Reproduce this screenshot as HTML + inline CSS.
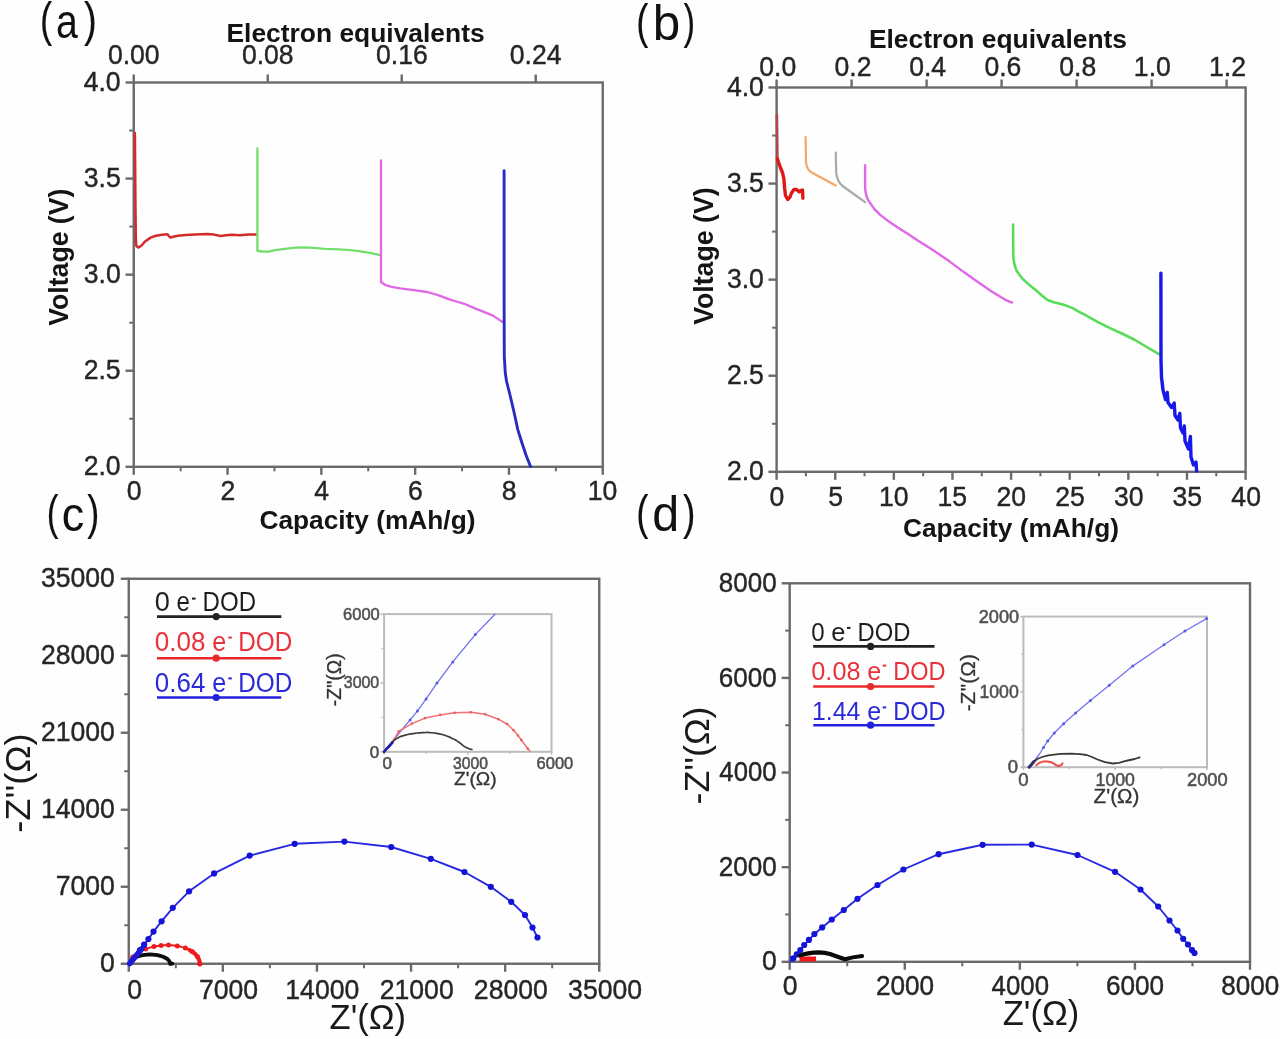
<!DOCTYPE html><html><head><meta charset="utf-8"><style>html,body{margin:0;padding:0;background:#fefefe;}svg{display:block;filter:blur(0.45px);}text{font-family:"Liberation Sans",sans-serif;}</style></head><body>
<svg width="1280" height="1039" viewBox="0 0 1280 1039">
<rect width="1280" height="1039" fill="#fefefe"/>
<rect x="133.75" y="82.5" width="469.0" height="384.3" fill="none" stroke="#6a6a6a" stroke-width="2.4"/>
<line x1="125.55" y1="466.80" x2="133.75" y2="466.80" stroke="#6a6a6a" stroke-width="2.4"/>
<text transform="translate(85.02,475.40) scale(1.0000,1.0500)" x="-1.33" y="0" font-size="26.6" font-weight="normal" fill="#262626" stroke="#262626" stroke-width="0.4">2.0</text>
<line x1="125.55" y1="370.73" x2="133.75" y2="370.73" stroke="#6a6a6a" stroke-width="2.4"/>
<text transform="translate(85.02,379.33) scale(1.0000,1.0500)" x="-1.33" y="0" font-size="26.6" font-weight="normal" fill="#262626" stroke="#262626" stroke-width="0.4">2.5</text>
<line x1="125.55" y1="274.65" x2="133.75" y2="274.65" stroke="#6a6a6a" stroke-width="2.4"/>
<text transform="translate(84.75,283.25) scale(1.0000,1.0500)" x="-1.06" y="0" font-size="26.6" font-weight="normal" fill="#262626" stroke="#262626" stroke-width="0.4">3.0</text>
<line x1="125.55" y1="178.57" x2="133.75" y2="178.57" stroke="#6a6a6a" stroke-width="2.4"/>
<text transform="translate(84.75,187.17) scale(1.0000,1.0500)" x="-1.06" y="0" font-size="26.6" font-weight="normal" fill="#262626" stroke="#262626" stroke-width="0.4">3.5</text>
<line x1="125.55" y1="82.50" x2="133.75" y2="82.50" stroke="#6a6a6a" stroke-width="2.4"/>
<text transform="translate(84.35,91.10) scale(1.0000,1.0500)" x="-0.67" y="0" font-size="26.6" font-weight="normal" fill="#262626" stroke="#262626" stroke-width="0.4">4.0</text>
<line x1="129.25" y1="418.76" x2="133.75" y2="418.76" stroke="#6a6a6a" stroke-width="2"/>
<line x1="129.25" y1="322.69" x2="133.75" y2="322.69" stroke="#6a6a6a" stroke-width="2"/>
<line x1="129.25" y1="226.61" x2="133.75" y2="226.61" stroke="#6a6a6a" stroke-width="2"/>
<line x1="129.25" y1="130.54" x2="133.75" y2="130.54" stroke="#6a6a6a" stroke-width="2"/>
<line x1="133.75" y1="466.80" x2="133.75" y2="474.80" stroke="#6a6a6a" stroke-width="2.4"/>
<text transform="translate(127.73,500.40) scale(1.0000,1.0500)" x="-1.06" y="0" font-size="26.6" font-weight="normal" fill="#262626" stroke="#262626" stroke-width="0.4">0</text>
<line x1="180.65" y1="466.80" x2="180.65" y2="471.30" stroke="#6a6a6a" stroke-width="2"/>
<line x1="227.55" y1="466.80" x2="227.55" y2="474.80" stroke="#6a6a6a" stroke-width="2.4"/>
<text transform="translate(221.80,500.40) scale(1.0000,1.0500)" x="-1.33" y="0" font-size="26.6" font-weight="normal" fill="#262626" stroke="#262626" stroke-width="0.4">2</text>
<line x1="274.45" y1="466.80" x2="274.45" y2="471.30" stroke="#6a6a6a" stroke-width="2"/>
<line x1="321.35" y1="466.80" x2="321.35" y2="474.80" stroke="#6a6a6a" stroke-width="2.4"/>
<text transform="translate(315.00,500.40) scale(1.0000,1.0500)" x="-0.67" y="0" font-size="26.6" font-weight="normal" fill="#262626" stroke="#262626" stroke-width="0.4">4</text>
<line x1="368.25" y1="466.80" x2="368.25" y2="471.30" stroke="#6a6a6a" stroke-width="2"/>
<line x1="415.15" y1="466.80" x2="415.15" y2="474.80" stroke="#6a6a6a" stroke-width="2.4"/>
<text transform="translate(409.33,500.40) scale(1.0000,1.0500)" x="-1.33" y="0" font-size="26.6" font-weight="normal" fill="#262626" stroke="#262626" stroke-width="0.4">6</text>
<line x1="462.05" y1="466.80" x2="462.05" y2="471.30" stroke="#6a6a6a" stroke-width="2"/>
<line x1="508.95" y1="466.80" x2="508.95" y2="474.80" stroke="#6a6a6a" stroke-width="2.4"/>
<text transform="translate(503.00,500.40) scale(1.0000,1.0500)" x="-1.20" y="0" font-size="26.6" font-weight="normal" fill="#262626" stroke="#262626" stroke-width="0.4">8</text>
<line x1="555.85" y1="466.80" x2="555.85" y2="471.30" stroke="#6a6a6a" stroke-width="2"/>
<line x1="602.75" y1="466.80" x2="602.75" y2="474.80" stroke="#6a6a6a" stroke-width="2.4"/>
<text transform="translate(589.82,500.40) scale(1.0000,1.0500)" x="-2.00" y="0" font-size="26.6" font-weight="normal" fill="#262626" stroke="#262626" stroke-width="0.4">10</text>
<line x1="133.75" y1="82.50" x2="133.75" y2="74.50" stroke="#6a6a6a" stroke-width="2.4"/>
<text transform="translate(108.95,63.90) scale(1.0000,1.0500)" x="-1.06" y="0" font-size="26.6" font-weight="normal" fill="#262626" stroke="#262626" stroke-width="0.4">0.00</text>
<line x1="267.75" y1="82.50" x2="267.75" y2="74.50" stroke="#6a6a6a" stroke-width="2.4"/>
<text transform="translate(242.95,63.90) scale(1.0000,1.0500)" x="-1.06" y="0" font-size="26.6" font-weight="normal" fill="#262626" stroke="#262626" stroke-width="0.4">0.08</text>
<line x1="401.75" y1="82.50" x2="401.75" y2="74.50" stroke="#6a6a6a" stroke-width="2.4"/>
<text transform="translate(377.01,63.90) scale(1.0000,1.0500)" x="-1.06" y="0" font-size="26.6" font-weight="normal" fill="#262626" stroke="#262626" stroke-width="0.4">0.16</text>
<line x1="535.75" y1="82.50" x2="535.75" y2="74.50" stroke="#6a6a6a" stroke-width="2.4"/>
<text transform="translate(510.81,63.90) scale(1.0000,1.0500)" x="-1.06" y="0" font-size="26.6" font-weight="normal" fill="#262626" stroke="#262626" stroke-width="0.4">0.24</text>
<text transform="translate(228.20,41.60) scale(0.9965,1.0000)" x="-1.72" y="0" font-size="26.5" font-weight="bold" fill="#141414">Electron equivalents</text>
<text transform="translate(260.50,528.60) scale(0.9918,1.0000)" x="-1.06" y="0" font-size="26.5" font-weight="bold" fill="#141414">Capacity (mAh/g)</text>
<text transform="translate(67.70,325.40) rotate(-90) scale(0.9889,1.0000)" x="-0.27" y="0" font-size="26.9" font-weight="bold" fill="#141414">Voltage (V)</text>
<polyline points="134.9,133.0 135.4,200.0 135.8,238.0 136.4,246.0 138.5,247.6 141.5,245.5 145.0,241.5 150.6,237.6 156.0,235.8 162.0,234.8 167.5,234.3 169.2,236.5 170.5,237.6 173.0,236.8 178.0,235.8 185.6,235.0 195.0,234.4 207.5,234.0 214.0,234.6 220.6,236.0 226.0,235.2 232.0,234.8 240.0,235.2 248.0,234.6 256.8,234.6" fill="none" stroke="#d42a2a" stroke-width="2.5" stroke-linejoin="round" stroke-linecap="round"/>
<polyline points="257.4,148.4 257.4,250.8 262.0,251.5 268.8,251.6 275.0,250.2 285.0,248.8 295.0,247.6 301.6,247.3 310.0,247.6 316.9,248.1 325.0,248.8 338.8,249.4 350.0,250.2 360.6,251.3 370.0,252.8 380.2,255.2" fill="none" stroke="#74de6c" stroke-width="2.3" stroke-linejoin="round" stroke-linecap="round"/>
<polyline points="381.0,160.3 381.0,282.0 385.0,284.8 390.7,286.6 400.0,288.3 414.0,290.2 427.2,292.0 438.0,295.2 449.4,299.4 458.0,302.0 465.3,304.2 475.0,308.4 484.4,312.1 493.0,315.6 501.9,321.6 504.0,322.5" fill="none" stroke="#e068e6" stroke-width="2.3" stroke-linejoin="round" stroke-linecap="round"/>
<polyline points="504.1,170.7 504.1,300.0 504.3,356.5 505.2,372.0 506.5,381.0 510.0,395.0 514.0,412.0 517.8,429.6 522.0,443.0 526.0,455.0 530.5,466.5" fill="none" stroke="#2a2ac4" stroke-width="2.9" stroke-linejoin="round" stroke-linecap="round"/>
<text transform="translate(42.20,36.36) scale(0.7505,1.0000)" x="-2.93" y="0" font-size="48.77" font-weight="normal" fill="#111" stroke="#111" stroke-width="0.15">(</text>
<text transform="translate(57.80,37.82) scale(0.8170,1.0000)" x="-2.16" y="0" font-size="48.0" font-weight="normal" fill="#111">a</text>
<text transform="translate(84.40,36.36) scale(0.7886,1.0000)" x="-0.49" y="0" font-size="48.77" font-weight="normal" fill="#111" stroke="#111" stroke-width="0.15">)</text>
<rect x="776.6" y="87.5" width="468.9999999999999" height="384.3" fill="none" stroke="#6a6a6a" stroke-width="2.4"/>
<line x1="768.40" y1="471.80" x2="776.60" y2="471.80" stroke="#6a6a6a" stroke-width="2.4"/>
<text transform="translate(728.22,480.40) scale(1.0000,1.0500)" x="-1.33" y="0" font-size="26.6" font-weight="normal" fill="#262626" stroke="#262626" stroke-width="0.4">2.0</text>
<line x1="768.40" y1="375.73" x2="776.60" y2="375.73" stroke="#6a6a6a" stroke-width="2.4"/>
<text transform="translate(728.22,384.33) scale(1.0000,1.0500)" x="-1.33" y="0" font-size="26.6" font-weight="normal" fill="#262626" stroke="#262626" stroke-width="0.4">2.5</text>
<line x1="768.40" y1="279.65" x2="776.60" y2="279.65" stroke="#6a6a6a" stroke-width="2.4"/>
<text transform="translate(727.95,288.25) scale(1.0000,1.0500)" x="-1.06" y="0" font-size="26.6" font-weight="normal" fill="#262626" stroke="#262626" stroke-width="0.4">3.0</text>
<line x1="768.40" y1="183.57" x2="776.60" y2="183.57" stroke="#6a6a6a" stroke-width="2.4"/>
<text transform="translate(727.95,192.17) scale(1.0000,1.0500)" x="-1.06" y="0" font-size="26.6" font-weight="normal" fill="#262626" stroke="#262626" stroke-width="0.4">3.5</text>
<line x1="768.40" y1="87.50" x2="776.60" y2="87.50" stroke="#6a6a6a" stroke-width="2.4"/>
<text transform="translate(727.55,96.10) scale(1.0000,1.0500)" x="-0.67" y="0" font-size="26.6" font-weight="normal" fill="#262626" stroke="#262626" stroke-width="0.4">4.0</text>
<line x1="772.10" y1="423.76" x2="776.60" y2="423.76" stroke="#6a6a6a" stroke-width="2"/>
<line x1="772.10" y1="327.69" x2="776.60" y2="327.69" stroke="#6a6a6a" stroke-width="2"/>
<line x1="772.10" y1="231.61" x2="776.60" y2="231.61" stroke="#6a6a6a" stroke-width="2"/>
<line x1="772.10" y1="135.54" x2="776.60" y2="135.54" stroke="#6a6a6a" stroke-width="2"/>
<line x1="776.60" y1="471.80" x2="776.60" y2="479.80" stroke="#6a6a6a" stroke-width="2.4"/>
<text transform="translate(770.58,505.60) scale(1.0000,1.0500)" x="-1.06" y="0" font-size="26.6" font-weight="normal" fill="#262626" stroke="#262626" stroke-width="0.4">0</text>
<line x1="835.23" y1="471.80" x2="835.23" y2="479.80" stroke="#6a6a6a" stroke-width="2.4"/>
<text transform="translate(829.21,505.60) scale(1.0000,1.0500)" x="-1.06" y="0" font-size="26.6" font-weight="normal" fill="#262626" stroke="#262626" stroke-width="0.4">5</text>
<line x1="893.85" y1="471.80" x2="893.85" y2="479.80" stroke="#6a6a6a" stroke-width="2.4"/>
<text transform="translate(880.92,505.60) scale(1.0000,1.0500)" x="-2.00" y="0" font-size="26.6" font-weight="normal" fill="#262626" stroke="#262626" stroke-width="0.4">10</text>
<line x1="952.48" y1="471.80" x2="952.48" y2="479.80" stroke="#6a6a6a" stroke-width="2.4"/>
<text transform="translate(939.54,505.60) scale(1.0000,1.0500)" x="-2.00" y="0" font-size="26.6" font-weight="normal" fill="#262626" stroke="#262626" stroke-width="0.4">15</text>
<line x1="1011.10" y1="471.80" x2="1011.10" y2="479.80" stroke="#6a6a6a" stroke-width="2.4"/>
<text transform="translate(997.83,505.60) scale(1.0000,1.0500)" x="-1.33" y="0" font-size="26.6" font-weight="normal" fill="#262626" stroke="#262626" stroke-width="0.4">20</text>
<line x1="1069.72" y1="471.80" x2="1069.72" y2="479.80" stroke="#6a6a6a" stroke-width="2.4"/>
<text transform="translate(1056.46,505.60) scale(1.0000,1.0500)" x="-1.33" y="0" font-size="26.6" font-weight="normal" fill="#262626" stroke="#262626" stroke-width="0.4">25</text>
<line x1="1128.35" y1="471.80" x2="1128.35" y2="479.80" stroke="#6a6a6a" stroke-width="2.4"/>
<text transform="translate(1114.95,505.60) scale(1.0000,1.0500)" x="-1.06" y="0" font-size="26.6" font-weight="normal" fill="#262626" stroke="#262626" stroke-width="0.4">30</text>
<line x1="1186.97" y1="471.80" x2="1186.97" y2="479.80" stroke="#6a6a6a" stroke-width="2.4"/>
<text transform="translate(1173.58,505.60) scale(1.0000,1.0500)" x="-1.06" y="0" font-size="26.6" font-weight="normal" fill="#262626" stroke="#262626" stroke-width="0.4">35</text>
<line x1="1245.60" y1="471.80" x2="1245.60" y2="479.80" stroke="#6a6a6a" stroke-width="2.4"/>
<text transform="translate(1232.00,505.60) scale(1.0000,1.0500)" x="-0.67" y="0" font-size="26.6" font-weight="normal" fill="#262626" stroke="#262626" stroke-width="0.4">40</text>
<line x1="805.91" y1="471.80" x2="805.91" y2="476.30" stroke="#6a6a6a" stroke-width="2"/>
<line x1="864.54" y1="471.80" x2="864.54" y2="476.30" stroke="#6a6a6a" stroke-width="2"/>
<line x1="923.16" y1="471.80" x2="923.16" y2="476.30" stroke="#6a6a6a" stroke-width="2"/>
<line x1="981.79" y1="471.80" x2="981.79" y2="476.30" stroke="#6a6a6a" stroke-width="2"/>
<line x1="1040.41" y1="471.80" x2="1040.41" y2="476.30" stroke="#6a6a6a" stroke-width="2"/>
<line x1="1099.04" y1="471.80" x2="1099.04" y2="476.30" stroke="#6a6a6a" stroke-width="2"/>
<line x1="1157.66" y1="471.80" x2="1157.66" y2="476.30" stroke="#6a6a6a" stroke-width="2"/>
<line x1="1216.29" y1="471.80" x2="1216.29" y2="476.30" stroke="#6a6a6a" stroke-width="2"/>
<line x1="776.60" y1="87.50" x2="776.60" y2="79.50" stroke="#6a6a6a" stroke-width="2.4"/>
<text transform="translate(760.38,76.10) scale(1.0000,1.0500)" x="-1.06" y="0" font-size="26.6" font-weight="normal" fill="#262626" stroke="#262626" stroke-width="0.4">0.0</text>
<line x1="851.60" y1="87.50" x2="851.60" y2="79.50" stroke="#6a6a6a" stroke-width="2.4"/>
<text transform="translate(835.51,76.10) scale(1.0000,1.0500)" x="-1.06" y="0" font-size="26.6" font-weight="normal" fill="#262626" stroke="#262626" stroke-width="0.4">0.2</text>
<line x1="926.60" y1="87.50" x2="926.60" y2="79.50" stroke="#6a6a6a" stroke-width="2.4"/>
<text transform="translate(910.24,76.10) scale(1.0000,1.0500)" x="-1.06" y="0" font-size="26.6" font-weight="normal" fill="#262626" stroke="#262626" stroke-width="0.4">0.4</text>
<line x1="1001.60" y1="87.50" x2="1001.60" y2="79.50" stroke="#6a6a6a" stroke-width="2.4"/>
<text transform="translate(985.44,76.10) scale(1.0000,1.0500)" x="-1.06" y="0" font-size="26.6" font-weight="normal" fill="#262626" stroke="#262626" stroke-width="0.4">0.6</text>
<line x1="1076.60" y1="87.50" x2="1076.60" y2="79.50" stroke="#6a6a6a" stroke-width="2.4"/>
<text transform="translate(1060.38,76.10) scale(1.0000,1.0500)" x="-1.06" y="0" font-size="26.6" font-weight="normal" fill="#262626" stroke="#262626" stroke-width="0.4">0.8</text>
<line x1="1151.60" y1="87.50" x2="1151.60" y2="79.50" stroke="#6a6a6a" stroke-width="2.4"/>
<text transform="translate(1135.84,76.10) scale(1.0000,1.0500)" x="-2.00" y="0" font-size="26.6" font-weight="normal" fill="#262626" stroke="#262626" stroke-width="0.4">1.0</text>
<line x1="1226.60" y1="87.50" x2="1226.60" y2="79.50" stroke="#6a6a6a" stroke-width="2.4"/>
<text transform="translate(1210.98,76.10) scale(1.0000,1.0500)" x="-2.00" y="0" font-size="26.6" font-weight="normal" fill="#262626" stroke="#262626" stroke-width="0.4">1.2</text>
<text transform="translate(870.60,48.20) scale(0.9965,1.0000)" x="-1.72" y="0" font-size="26.5" font-weight="bold" fill="#141414">Electron equivalents</text>
<text transform="translate(904.00,536.60) scale(0.9918,1.0000)" x="-1.06" y="0" font-size="26.5" font-weight="bold" fill="#141414">Capacity (mAh/g)</text>
<text transform="translate(712.70,324.60) rotate(-90) scale(0.9933,1.0000)" x="-0.27" y="0" font-size="26.9" font-weight="bold" fill="#141414">Voltage (V)</text>
<polyline points="776.9,115.0 777.2,140.0 777.4,158.9" fill="none" stroke="#b04848" stroke-width="2.6" stroke-linejoin="round" stroke-linecap="round"/>
<polyline points="777.4,158.9 780.2,167.0 782.6,173.0 783.9,179.0 784.6,188.0 785.5,195.5 787.7,199.5 790.0,197.0 791.5,193.0 794.0,189.5 796.5,189.5 799.0,191.8 801.0,190.5 802.5,190.0 802.9,198.2" fill="none" stroke="#e01818" stroke-width="3.4" stroke-linejoin="round" stroke-linecap="round"/>
<path d="M805.6,137 L806,162.4 Q807,171 813.1,173.2 L835.7,185.5" fill="none" stroke="#f2a865" stroke-width="2.2" stroke-linejoin="round" stroke-linecap="round"/>
<path d="M835.8,152.6 L836.2,172.8 Q837,181 842.5,186 L865.1,202.2" fill="none" stroke="#a9a9a9" stroke-width="2.2" stroke-linejoin="round" stroke-linecap="round"/>
<path d="M865.1,165.3 L865.1,187 C865.3,193 866.8,198.5 869.6,202.3 L874.4,209.1 L880.2,214.9 L888.9,221.6 L898.5,227.9 L908.1,234.1 L917.7,240.4 L927.4,246.6 L935,251.5 L949.1,261.1 L963.1,271.6 L977.2,281.5 L991.3,291.3 L1005.3,299.8 L1012.2,302.6" fill="none" stroke="#e068e6" stroke-width="2.4" stroke-linejoin="round" stroke-linecap="round"/>
<path d="M1013.1,224.6 L1013.2,254.1 C1013.5,262 1014.6,266.5 1016.9,271.2 L1022.5,278.75 L1028.75,284.4 L1035,289.4 L1041.25,295 L1047.5,300 L1053.75,302.2 L1060,303.75 L1066.25,305.6 L1072.5,308.1 L1078.75,311.6 L1085,314.8 L1097.5,321.9 L1110,328.1 L1122.5,333.75 L1135,340 L1147.5,347.5 L1159,354.2" fill="none" stroke="#58dc58" stroke-width="2.6" stroke-linejoin="round" stroke-linecap="round"/>
<polyline points="1160.9,273.1 1161.0,360.0 1161.5,377.3 1163.0,390.0 1165.5,399.5 1167.3,392.5 1168.0,402.5 1171.5,407.5 1174.2,403.0 1175.0,415.5 1178.0,420.0 1179.8,413.5 1180.5,428.0 1183.0,433.0 1184.3,426.0 1185.0,441.0 1188.5,449.0 1190.4,436.5 1191.0,457.0 1193.5,465.0 1196.0,462.0 1196.6,471.0" fill="none" stroke="#1818e8" stroke-width="3.4" stroke-linejoin="round" stroke-linecap="round"/>
<text transform="translate(638.40,38.16) scale(0.7505,1.0000)" x="-2.93" y="0" font-size="48.77" font-weight="normal" fill="#111" stroke="#111" stroke-width="0.15">(</text>
<text transform="translate(655.90,39.51) scale(1.0003,1.0000)" x="-3.21" y="0" font-size="49.32" font-weight="normal" fill="#111">b</text>
<text transform="translate(683.75,38.16) scale(0.7137,1.0000)" x="-0.49" y="0" font-size="48.77" font-weight="normal" fill="#111" stroke="#111" stroke-width="0.15">)</text>
<rect x="128.75" y="578.75" width="470.5" height="385.0" fill="none" stroke="#6a6a6a" stroke-width="2.4"/>
<line x1="120.75" y1="963.75" x2="128.75" y2="963.75" stroke="#6a6a6a" stroke-width="2.4"/>
<text transform="translate(101.16,972.35) scale(1.0000,1.0500)" x="-1.06" y="0" font-size="26.6" font-weight="normal" fill="#262626" stroke="#262626" stroke-width="0.4">0</text>
<line x1="128.75" y1="963.75" x2="128.75" y2="971.75" stroke="#6a6a6a" stroke-width="2.4"/>
<text transform="translate(128.23,998.70) scale(1.0000,1.0500)" x="-1.06" y="0" font-size="26.6" font-weight="normal" fill="#262626" stroke="#262626" stroke-width="0.4">0</text>
<line x1="120.75" y1="886.75" x2="128.75" y2="886.75" stroke="#6a6a6a" stroke-width="2.4"/>
<text transform="translate(57.01,895.35) scale(1.0000,1.0500)" x="-1.33" y="0" font-size="26.6" font-weight="normal" fill="#262626" stroke="#262626" stroke-width="0.4">7000</text>
<line x1="222.85" y1="963.75" x2="222.85" y2="971.75" stroke="#6a6a6a" stroke-width="2.4"/>
<text transform="translate(200.25,998.70) scale(1.0000,1.0500)" x="-1.33" y="0" font-size="26.6" font-weight="normal" fill="#262626" stroke="#262626" stroke-width="0.4">7000</text>
<line x1="120.75" y1="809.75" x2="128.75" y2="809.75" stroke="#6a6a6a" stroke-width="2.4"/>
<text transform="translate(42.91,818.35) scale(1.0000,1.0500)" x="-2.00" y="0" font-size="26.6" font-weight="normal" fill="#262626" stroke="#262626" stroke-width="0.4">14000</text>
<line x1="316.95" y1="963.75" x2="316.95" y2="971.75" stroke="#6a6a6a" stroke-width="2.4"/>
<text transform="translate(287.31,998.70) scale(1.0000,1.0500)" x="-2.00" y="0" font-size="26.6" font-weight="normal" fill="#262626" stroke="#262626" stroke-width="0.4">14000</text>
<line x1="120.75" y1="732.75" x2="128.75" y2="732.75" stroke="#6a6a6a" stroke-width="2.4"/>
<text transform="translate(42.25,741.35) scale(1.0000,1.0500)" x="-1.33" y="0" font-size="26.6" font-weight="normal" fill="#262626" stroke="#262626" stroke-width="0.4">21000</text>
<line x1="411.05" y1="963.75" x2="411.05" y2="971.75" stroke="#6a6a6a" stroke-width="2.4"/>
<text transform="translate(381.07,998.70) scale(1.0000,1.0500)" x="-1.33" y="0" font-size="26.6" font-weight="normal" fill="#262626" stroke="#262626" stroke-width="0.4">21000</text>
<line x1="120.75" y1="655.75" x2="128.75" y2="655.75" stroke="#6a6a6a" stroke-width="2.4"/>
<text transform="translate(42.25,664.35) scale(1.0000,1.0500)" x="-1.33" y="0" font-size="26.6" font-weight="normal" fill="#262626" stroke="#262626" stroke-width="0.4">28000</text>
<line x1="505.15" y1="963.75" x2="505.15" y2="971.75" stroke="#6a6a6a" stroke-width="2.4"/>
<text transform="translate(475.17,998.70) scale(1.0000,1.0500)" x="-1.33" y="0" font-size="26.6" font-weight="normal" fill="#262626" stroke="#262626" stroke-width="0.4">28000</text>
<line x1="120.75" y1="578.75" x2="128.75" y2="578.75" stroke="#6a6a6a" stroke-width="2.4"/>
<text transform="translate(41.98,587.35) scale(1.0000,1.0500)" x="-1.06" y="0" font-size="26.6" font-weight="normal" fill="#262626" stroke="#262626" stroke-width="0.4">35000</text>
<line x1="599.25" y1="963.75" x2="599.25" y2="971.75" stroke="#6a6a6a" stroke-width="2.4"/>
<text transform="translate(569.14,998.70) scale(1.0000,1.0500)" x="-1.06" y="0" font-size="26.6" font-weight="normal" fill="#262626" stroke="#262626" stroke-width="0.4">35000</text>
<line x1="124.25" y1="925.25" x2="128.75" y2="925.25" stroke="#6a6a6a" stroke-width="2"/>
<line x1="175.80" y1="963.75" x2="175.80" y2="968.25" stroke="#6a6a6a" stroke-width="2"/>
<line x1="124.25" y1="848.25" x2="128.75" y2="848.25" stroke="#6a6a6a" stroke-width="2"/>
<line x1="269.90" y1="963.75" x2="269.90" y2="968.25" stroke="#6a6a6a" stroke-width="2"/>
<line x1="124.25" y1="771.25" x2="128.75" y2="771.25" stroke="#6a6a6a" stroke-width="2"/>
<line x1="364.00" y1="963.75" x2="364.00" y2="968.25" stroke="#6a6a6a" stroke-width="2"/>
<line x1="124.25" y1="694.25" x2="128.75" y2="694.25" stroke="#6a6a6a" stroke-width="2"/>
<line x1="458.10" y1="963.75" x2="458.10" y2="968.25" stroke="#6a6a6a" stroke-width="2"/>
<line x1="124.25" y1="617.25" x2="128.75" y2="617.25" stroke="#6a6a6a" stroke-width="2"/>
<line x1="552.20" y1="963.75" x2="552.20" y2="968.25" stroke="#6a6a6a" stroke-width="2"/>
<text transform="translate(330.60,1029.40) scale(0.9726,1.0000)" x="-1.06" y="0" font-size="35.5" font-weight="normal" fill="#1a1a1a">Z'(Ω)</text>
<text transform="translate(30.00,831.20) rotate(-90) scale(1.0154,1.0000)" x="-1.61" y="0" font-size="35.8" font-weight="normal" fill="#1a1a1a">-Z''(Ω)</text>
<text transform="translate(48.75,529.15) scale(0.7227,1.0000)" x="-2.93" y="0" font-size="48.82" font-weight="normal" fill="#111" stroke="#111" stroke-width="0.15">(</text>
<text transform="translate(63.75,531.12) scale(0.9305,1.0000)" x="-2.18" y="0" font-size="48.36" font-weight="normal" fill="#111">c</text>
<text transform="translate(87.50,529.15) scale(0.7406,1.0000)" x="-0.49" y="0" font-size="48.82" font-weight="normal" fill="#111" stroke="#111" stroke-width="0.15">)</text>
<polyline points="129.8,964.0 129.8,963.1 130.0,962.2 130.2,961.3 130.6,960.4 131.0,959.5 131.5,958.6 132.1,957.8 132.8,956.9 133.6,956.1 134.5,955.3 135.4,954.4 136.5,953.7 137.6,952.9 138.8,952.2 140.1,951.5 141.4,950.8 142.8,950.1 144.2,949.5 145.7,948.9 147.3,948.4 148.9,947.9 150.6,947.4 152.3,947.0 154.0,946.6 155.7,946.2 157.5,945.9 159.3,945.7 161.1,945.5 163.0,945.3 164.8,945.2 166.6,945.1 168.5,945.1 170.3,945.2 172.1,945.3 173.9,945.5 175.6,945.7 177.3,945.9 179.0,946.3 180.7,946.6 182.3,947.1 183.9,947.5 185.4,948.1 186.8,948.7 188.2,949.3 189.5,950.0 190.8,950.7 192.0,951.4 193.1,952.2 194.2,953.1 195.1,953.9 196.0,954.9 196.8,955.8 197.5,956.8 198.1,957.7 198.6,958.8 199.0,959.8 199.4,960.8 199.6,961.9 199.8,962.9 199.8,964.0" fill="none" stroke="#ee1c1c" stroke-width="2.0" stroke-linejoin="round" stroke-linecap="round"/>
<circle cx="132.8" cy="956.9" r="2.5" fill="#ee1c1c"/>
<circle cx="138.8" cy="952.2" r="2.5" fill="#ee1c1c"/>
<circle cx="145.7" cy="948.9" r="2.5" fill="#ee1c1c"/>
<circle cx="154.0" cy="946.6" r="2.5" fill="#ee1c1c"/>
<circle cx="161.1" cy="945.5" r="2.5" fill="#ee1c1c"/>
<circle cx="168.5" cy="945.1" r="2.5" fill="#ee1c1c"/>
<circle cx="177.3" cy="945.9" r="2.5" fill="#ee1c1c"/>
<circle cx="185.4" cy="948.1" r="2.5" fill="#ee1c1c"/>
<circle cx="192.0" cy="951.4" r="2.5" fill="#ee1c1c"/>
<circle cx="197.5" cy="956.8" r="2.5" fill="#ee1c1c"/>
<circle cx="199.8" cy="964.0" r="2.5" fill="#ee1c1c"/>
<polyline points="189.5,950.0 190.8,950.7 192.0,951.4 193.1,952.2 194.2,953.1 195.1,953.9 196.0,954.9 196.8,955.8 197.5,956.8 198.1,957.7 198.6,958.8 199.0,959.8 199.4,960.8 199.6,961.9 199.8,962.9 199.8,964.0" fill="none" stroke="#ee1c1c" stroke-width="4.2" stroke-linejoin="round" stroke-linecap="round"/>
<polyline points="129.8,964.0 130.0,962.8 130.5,961.5 131.3,960.4 132.5,959.2 134.0,958.2 135.7,957.3 137.7,956.5 139.9,955.8 142.3,955.2 144.8,954.8 147.4,954.6 150.0,954.5 152.6,954.6 155.2,954.8 157.7,955.2 160.1,955.8 162.3,956.5 164.3,957.3 166.0,958.2 167.5,959.2 168.7,960.4 169.5,961.5 170.0,962.8 170.2,964.0 172.5,963.6" fill="none" stroke="#0c0c0c" stroke-width="3.8" stroke-linejoin="round" stroke-linecap="round"/>
<polyline points="129.7,964.0 133.0,959.5 136.5,955.0 140.0,950.0 144.1,944.7 148.4,939.1 153.5,931.6 161.6,921.3 172.8,907.8 189.1,891.3 214.1,873.4 249.7,855.6 294.7,843.8 344.4,841.6 391.2,847.0 430.8,858.8 464.5,872.0 490.8,886.8 511.2,901.8 525.0,915.0 532.5,927.5 537.5,937.5" fill="none" stroke="#2828e0" stroke-width="1.9" stroke-linejoin="round" stroke-linecap="round"/>
<circle cx="140.0" cy="950.0" r="3.1" fill="#1414d8"/>
<circle cx="144.1" cy="944.7" r="3.1" fill="#1414d8"/>
<circle cx="148.4" cy="939.1" r="3.1" fill="#1414d8"/>
<circle cx="153.5" cy="931.6" r="3.1" fill="#1414d8"/>
<circle cx="161.6" cy="921.3" r="3.1" fill="#1414d8"/>
<circle cx="172.8" cy="907.8" r="3.1" fill="#1414d8"/>
<circle cx="189.1" cy="891.3" r="3.1" fill="#1414d8"/>
<circle cx="214.1" cy="873.4" r="3.1" fill="#1414d8"/>
<circle cx="249.7" cy="855.6" r="3.1" fill="#1414d8"/>
<circle cx="294.7" cy="843.8" r="3.1" fill="#1414d8"/>
<circle cx="344.4" cy="841.6" r="3.1" fill="#1414d8"/>
<circle cx="391.2" cy="847.0" r="3.1" fill="#1414d8"/>
<circle cx="430.8" cy="858.8" r="3.1" fill="#1414d8"/>
<circle cx="464.5" cy="872.0" r="3.1" fill="#1414d8"/>
<circle cx="490.8" cy="886.8" r="3.1" fill="#1414d8"/>
<circle cx="511.2" cy="901.8" r="3.1" fill="#1414d8"/>
<circle cx="525.0" cy="915.0" r="3.1" fill="#1414d8"/>
<circle cx="532.5" cy="927.5" r="3.1" fill="#1414d8"/>
<circle cx="537.5" cy="937.5" r="3.1" fill="#1414d8"/>
<polyline points="129.8,963.5 142.0,948.6" fill="none" stroke="#1a1ad8" stroke-width="5.6" stroke-linejoin="round" stroke-linecap="round"/>
<text transform="translate(155.90,611.40) scale(1.0058,1.0000)" x="-1.08" y="0" font-size="27.0" font-weight="normal" fill="#1e1e1e">0</text>
<text transform="translate(177.50,611.40) scale(0.8921,1.0000)" x="-1.21" y="0" font-size="27.0" font-weight="normal" fill="#1e1e1e">e</text>
<rect x="192.00" y="597.60" width="3.60" height="2.0" fill="#1e1e1e"/>
<text transform="translate(204.50,611.40) scale(0.8910,1.0000)" x="-2.16" y="0" font-size="27.0" font-weight="normal" fill="#1e1e1e">DOD</text>
<line x1="157.00" y1="616.60" x2="281.30" y2="616.60" stroke="#222" stroke-width="2.6"/>
<circle cx="216.2" cy="616.6" r="3.6" fill="#222"/>
<text transform="translate(155.90,650.60) scale(0.9651,1.0000)" x="-1.08" y="0" font-size="27.0" font-weight="normal" fill="#e8323c">0.08</text>
<text transform="translate(213.30,650.60) scale(0.9319,1.0000)" x="-1.21" y="0" font-size="27.0" font-weight="normal" fill="#e8323c">e</text>
<rect x="228.30" y="636.60" width="3.50" height="2.0" fill="#e8323c"/>
<text transform="translate(240.20,650.60) scale(0.9016,1.0000)" x="-2.16" y="0" font-size="27.0" font-weight="normal" fill="#e8323c">DOD</text>
<line x1="157.00" y1="658.20" x2="281.30" y2="658.20" stroke="#e82a2a" stroke-width="2.6"/>
<circle cx="216.2" cy="658.2" r="3.6" fill="#e82a2a"/>
<text transform="translate(155.90,692.20) scale(0.9600,1.0000)" x="-1.08" y="0" font-size="27.0" font-weight="normal" fill="#2a2ad6">0.64</text>
<text transform="translate(213.30,692.20) scale(0.9319,1.0000)" x="-1.21" y="0" font-size="27.0" font-weight="normal" fill="#2a2ad6">e</text>
<rect x="228.30" y="677.40" width="3.50" height="2.0" fill="#2a2ad6"/>
<text transform="translate(240.20,692.20) scale(0.9016,1.0000)" x="-2.16" y="0" font-size="27.0" font-weight="normal" fill="#2a2ad6">DOD</text>
<line x1="157.00" y1="697.50" x2="281.30" y2="697.50" stroke="#2222dd" stroke-width="2.6"/>
<circle cx="216.2" cy="697.5" r="3.6" fill="#2222dd"/>
<rect x="384.1" y="614.1" width="167.39999999999998" height="137.69999999999993" fill="none" stroke="#bcbcbc" stroke-width="2.0"/>
<line x1="380.60" y1="751.80" x2="384.10" y2="751.80" stroke="#bcbcbc" stroke-width="1.6"/>
<line x1="384.10" y1="751.80" x2="384.10" y2="754.80" stroke="#bcbcbc" stroke-width="1.6"/>
<line x1="380.60" y1="682.95" x2="384.10" y2="682.95" stroke="#bcbcbc" stroke-width="1.6"/>
<line x1="467.80" y1="751.80" x2="467.80" y2="754.80" stroke="#bcbcbc" stroke-width="1.6"/>
<line x1="380.60" y1="614.10" x2="384.10" y2="614.10" stroke="#bcbcbc" stroke-width="1.6"/>
<line x1="551.50" y1="751.80" x2="551.50" y2="754.80" stroke="#bcbcbc" stroke-width="1.6"/>
<line x1="381.60" y1="717.38" x2="384.10" y2="717.38" stroke="#bcbcbc" stroke-width="1.4"/>
<line x1="425.95" y1="751.80" x2="425.95" y2="753.80" stroke="#bcbcbc" stroke-width="1.4"/>
<line x1="381.60" y1="648.52" x2="384.10" y2="648.52" stroke="#bcbcbc" stroke-width="1.4"/>
<line x1="509.65" y1="751.80" x2="509.65" y2="753.80" stroke="#bcbcbc" stroke-width="1.4"/>
<text transform="translate(343.90,619.60) scale(0.9698,1.0000)" x="-0.85" y="0" font-size="17.0" font-weight="normal" fill="#505050" stroke="#505050" stroke-width="0.55">6000</text>
<text transform="translate(344.40,688.00) scale(0.9379,1.0000)" x="-0.68" y="0" font-size="17.0" font-weight="normal" fill="#505050" stroke="#505050" stroke-width="0.55">3000</text>
<text transform="translate(370.53,757.60) scale(1.0000,1.0000)" x="-0.68" y="0" font-size="17.0" font-weight="normal" fill="#505050" stroke="#505050" stroke-width="0.55">0</text>
<text transform="translate(383.16,769.30) scale(1.0000,1.0000)" x="-0.68" y="0" font-size="17.0" font-weight="normal" fill="#505050" stroke="#505050" stroke-width="0.55">0</text>
<text transform="translate(453.70,769.30) scale(0.9214,1.0000)" x="-0.68" y="0" font-size="17.0" font-weight="normal" fill="#505050" stroke="#505050" stroke-width="0.55">3000</text>
<text transform="translate(537.40,769.30) scale(0.9698,1.0000)" x="-0.85" y="0" font-size="17.0" font-weight="normal" fill="#505050" stroke="#505050" stroke-width="0.55">6000</text>
<text transform="translate(454.50,785.20) scale(1.0744,1.0000)" x="-0.54" y="0" font-size="18.0" font-weight="normal" fill="#333" stroke="#333" stroke-width="0.3">Z'(Ω)</text>
<text transform="translate(340.60,705.40) rotate(-90) scale(0.9855,1.0000)" x="-0.88" y="0" font-size="19.6" font-weight="normal" fill="#333" stroke="#333" stroke-width="0.3">-Z''(Ω)</text>
<polyline points="384.0,751.5 392.0,742.0 400.0,732.0 410.1,719.9 417.4,711.1 426.1,698.9 437.0,683.1 452.8,661.9 475.3,634.6 495.0,614.2" fill="none" stroke="#7070f0" stroke-width="1.3" stroke-linejoin="round" stroke-linecap="round"/>
<circle cx="410.1" cy="719.9" r="1.5" fill="#5a5ae6"/>
<circle cx="417.4" cy="711.1" r="1.5" fill="#5a5ae6"/>
<circle cx="426.1" cy="698.9" r="1.5" fill="#5a5ae6"/>
<circle cx="437.0" cy="683.1" r="1.5" fill="#5a5ae6"/>
<circle cx="452.8" cy="661.9" r="1.5" fill="#5a5ae6"/>
<circle cx="475.3" cy="634.6" r="1.5" fill="#5a5ae6"/>
<polyline points="384.0,751.5 392.2,742.2 398.8,731.3 411.9,723.6 425.0,718.1 440.3,714.9 454.5,712.7 471.0,712.2 485.2,714.2 498.3,719.2 507.0,724.0 513.6,730.2 518.0,735.5 521.3,740.0 527.8,748.8 530.0,751.0" fill="none" stroke="#f07272" stroke-width="1.5" stroke-linejoin="round" stroke-linecap="round"/>
<circle cx="392.2" cy="742.2" r="1.3" fill="#ea5a5a"/>
<circle cx="398.8" cy="731.3" r="1.3" fill="#ea5a5a"/>
<circle cx="411.9" cy="723.6" r="1.3" fill="#ea5a5a"/>
<circle cx="425.0" cy="718.1" r="1.3" fill="#ea5a5a"/>
<circle cx="440.3" cy="714.9" r="1.3" fill="#ea5a5a"/>
<circle cx="454.5" cy="712.7" r="1.3" fill="#ea5a5a"/>
<circle cx="471.0" cy="712.2" r="1.3" fill="#ea5a5a"/>
<circle cx="485.2" cy="714.2" r="1.3" fill="#ea5a5a"/>
<circle cx="498.3" cy="719.2" r="1.3" fill="#ea5a5a"/>
<circle cx="507.0" cy="724.0" r="1.3" fill="#ea5a5a"/>
<circle cx="513.6" cy="730.2" r="1.3" fill="#ea5a5a"/>
<circle cx="518.0" cy="735.5" r="1.3" fill="#ea5a5a"/>
<circle cx="521.3" cy="740.0" r="1.3" fill="#ea5a5a"/>
<circle cx="527.8" cy="748.8" r="1.3" fill="#ea5a5a"/>
<polyline points="384.0,751.5 389.0,745.5 394.4,740.0 400.0,736.6 407.5,734.5 417.0,733.0 427.2,732.4 435.0,733.0 442.5,734.5 449.0,736.8 455.6,740.0 460.5,743.4 464.4,746.6 469.9,749.2 472.0,749.5" fill="none" stroke="#3a3a3a" stroke-width="1.7" stroke-linejoin="round" stroke-linecap="round" stroke-dasharray="2.5 1.2"/>
<polyline points="384.0,751.8 387.0,748.5 390.0,745.5 392.5,742.5" fill="none" stroke="#2020b0" stroke-width="2.6" stroke-linejoin="round" stroke-linecap="round"/>
<rect x="789.7" y="583.3" width="460.29999999999995" height="378.5" fill="none" stroke="#6a6a6a" stroke-width="2.4"/>
<line x1="781.70" y1="961.80" x2="789.70" y2="961.80" stroke="#6a6a6a" stroke-width="2.4"/>
<text transform="translate(762.97,970.40) scale(1.0000,1.0500)" x="-1.06" y="0" font-size="26.6" font-weight="normal" fill="#262626" stroke="#262626" stroke-width="0.4">0</text>
<line x1="789.70" y1="961.80" x2="789.70" y2="969.80" stroke="#6a6a6a" stroke-width="2.4"/>
<text transform="translate(783.68,995.00) scale(1.0000,1.0500)" x="-1.06" y="0" font-size="26.6" font-weight="normal" fill="#262626" stroke="#262626" stroke-width="0.4">0</text>
<line x1="781.70" y1="867.17" x2="789.70" y2="867.17" stroke="#6a6a6a" stroke-width="2.4"/>
<text transform="translate(720.00,875.77) scale(0.9790,1.0500)" x="-1.33" y="0" font-size="26.6" font-weight="normal" fill="#262626" stroke="#262626" stroke-width="0.4">2000</text>
<line x1="904.78" y1="961.80" x2="904.78" y2="969.80" stroke="#6a6a6a" stroke-width="2.4"/>
<text transform="translate(877.18,995.00) scale(0.9826,1.0500)" x="-1.33" y="0" font-size="26.6" font-weight="normal" fill="#262626" stroke="#262626" stroke-width="0.4">2000</text>
<line x1="781.70" y1="772.55" x2="789.70" y2="772.55" stroke="#6a6a6a" stroke-width="2.4"/>
<text transform="translate(720.00,781.15) scale(0.9677,1.0500)" x="-0.67" y="0" font-size="26.6" font-weight="normal" fill="#262626" stroke="#262626" stroke-width="0.4">4000</text>
<line x1="1019.85" y1="961.80" x2="1019.85" y2="969.80" stroke="#6a6a6a" stroke-width="2.4"/>
<text transform="translate(992.25,995.00) scale(0.9712,1.0500)" x="-0.67" y="0" font-size="26.6" font-weight="normal" fill="#262626" stroke="#262626" stroke-width="0.4">4000</text>
<line x1="781.70" y1="677.92" x2="789.70" y2="677.92" stroke="#6a6a6a" stroke-width="2.4"/>
<text transform="translate(720.00,686.52) scale(0.9790,1.0500)" x="-1.33" y="0" font-size="26.6" font-weight="normal" fill="#262626" stroke="#262626" stroke-width="0.4">6000</text>
<line x1="1134.92" y1="961.80" x2="1134.92" y2="969.80" stroke="#6a6a6a" stroke-width="2.4"/>
<text transform="translate(1107.32,995.00) scale(0.9826,1.0500)" x="-1.33" y="0" font-size="26.6" font-weight="normal" fill="#262626" stroke="#262626" stroke-width="0.4">6000</text>
<line x1="781.70" y1="583.30" x2="789.70" y2="583.30" stroke="#6a6a6a" stroke-width="2.4"/>
<text transform="translate(720.00,591.90) scale(0.9767,1.0500)" x="-1.20" y="0" font-size="26.6" font-weight="normal" fill="#262626" stroke="#262626" stroke-width="0.4">8000</text>
<line x1="1250.00" y1="961.80" x2="1250.00" y2="969.80" stroke="#6a6a6a" stroke-width="2.4"/>
<text transform="translate(1222.40,995.00) scale(0.9803,1.0500)" x="-1.20" y="0" font-size="26.6" font-weight="normal" fill="#262626" stroke="#262626" stroke-width="0.4">8000</text>
<line x1="785.20" y1="914.49" x2="789.70" y2="914.49" stroke="#6a6a6a" stroke-width="2"/>
<line x1="847.24" y1="961.80" x2="847.24" y2="966.30" stroke="#6a6a6a" stroke-width="2"/>
<line x1="785.20" y1="819.86" x2="789.70" y2="819.86" stroke="#6a6a6a" stroke-width="2"/>
<line x1="962.31" y1="961.80" x2="962.31" y2="966.30" stroke="#6a6a6a" stroke-width="2"/>
<line x1="785.20" y1="725.24" x2="789.70" y2="725.24" stroke="#6a6a6a" stroke-width="2"/>
<line x1="1077.39" y1="961.80" x2="1077.39" y2="966.30" stroke="#6a6a6a" stroke-width="2"/>
<line x1="785.20" y1="630.61" x2="789.70" y2="630.61" stroke="#6a6a6a" stroke-width="2"/>
<line x1="1192.46" y1="961.80" x2="1192.46" y2="966.30" stroke="#6a6a6a" stroke-width="2"/>
<text transform="translate(1003.80,1024.50) scale(0.9726,1.0000)" x="-1.06" y="0" font-size="35.5" font-weight="normal" fill="#1a1a1a">Z'(Ω)</text>
<text transform="translate(708.80,802.80) rotate(-90) scale(0.9984,1.0000)" x="-1.61" y="0" font-size="35.8" font-weight="normal" fill="#1a1a1a">-Z''(Ω)</text>
<text transform="translate(638.40,529.15) scale(0.7498,1.0000)" x="-2.93" y="0" font-size="48.82" font-weight="normal" fill="#111" stroke="#111" stroke-width="0.15">(</text>
<text transform="translate(654.10,531.10) scale(0.9650,1.0000)" x="-2.01" y="0" font-size="50.2" font-weight="normal" fill="#111">d</text>
<text transform="translate(683.40,529.15) scale(0.7642,1.0000)" x="-0.49" y="0" font-size="48.82" font-weight="normal" fill="#111" stroke="#111" stroke-width="0.15">)</text>
<polyline points="790.0,961.5 793.3,958.3 796.8,954.4 800.3,950.0 804.2,945.0 808.9,939.9 814.4,934.0 822.2,927.4 831.8,919.5 843.8,910.0 857.5,898.8 877.5,885.0 903.4,869.5 938.6,854.2 982.6,844.8 1031.7,844.6 1077.5,855.0 1115.0,871.8 1140.5,889.5 1158.2,906.5 1169.5,920.5 1177.5,930.5 1183.2,938.8 1188.0,944.5 1192.0,950.0 1194.5,953.0" fill="none" stroke="#2828e0" stroke-width="1.9" stroke-linejoin="round" stroke-linecap="round"/>
<circle cx="793.3" cy="958.3" r="3.1" fill="#1414d8"/>
<circle cx="796.8" cy="954.4" r="3.1" fill="#1414d8"/>
<circle cx="800.3" cy="950.0" r="3.1" fill="#1414d8"/>
<circle cx="804.2" cy="945.0" r="3.1" fill="#1414d8"/>
<circle cx="808.9" cy="939.9" r="3.1" fill="#1414d8"/>
<circle cx="814.4" cy="934.0" r="3.1" fill="#1414d8"/>
<circle cx="822.2" cy="927.4" r="3.1" fill="#1414d8"/>
<circle cx="831.8" cy="919.5" r="3.1" fill="#1414d8"/>
<circle cx="843.8" cy="910.0" r="3.1" fill="#1414d8"/>
<circle cx="857.5" cy="898.8" r="3.1" fill="#1414d8"/>
<circle cx="877.5" cy="885.0" r="3.1" fill="#1414d8"/>
<circle cx="903.4" cy="869.5" r="3.1" fill="#1414d8"/>
<circle cx="938.6" cy="854.2" r="3.1" fill="#1414d8"/>
<circle cx="982.6" cy="844.8" r="3.1" fill="#1414d8"/>
<circle cx="1031.7" cy="844.6" r="3.1" fill="#1414d8"/>
<circle cx="1077.5" cy="855.0" r="3.1" fill="#1414d8"/>
<circle cx="1115.0" cy="871.8" r="3.1" fill="#1414d8"/>
<circle cx="1140.5" cy="889.5" r="3.1" fill="#1414d8"/>
<circle cx="1158.2" cy="906.5" r="3.1" fill="#1414d8"/>
<circle cx="1169.5" cy="920.5" r="3.1" fill="#1414d8"/>
<circle cx="1177.5" cy="930.5" r="3.1" fill="#1414d8"/>
<circle cx="1183.2" cy="938.8" r="3.1" fill="#1414d8"/>
<circle cx="1188.0" cy="944.5" r="3.1" fill="#1414d8"/>
<circle cx="1192.0" cy="950.0" r="3.1" fill="#1414d8"/>
<circle cx="1194.5" cy="953.0" r="3.1" fill="#1414d8"/>
<path d="M799.5,961.6 L799.5,958.6 Q800.5,956.6 803,956.6 L816,956.6 L816,961.6 Z" fill="#ee1818"/>
<path d="M799.8,955.6 Q807,952.8 819,952.4 Q825,952.6 830,954 Q838,957 845,959.2 Q852,957.2 862,956" fill="none" stroke="#0a0a0a" stroke-width="4.2" stroke-linejoin="round" stroke-linecap="round"/>
<text transform="translate(812.30,641.40) scale(0.9096,1.0000)" x="-1.06" y="0" font-size="26.5" font-weight="normal" fill="#1e1e1e">0</text>
<text transform="translate(832.50,641.40) scale(0.9576,1.0000)" x="-1.19" y="0" font-size="26.5" font-weight="normal" fill="#1e1e1e">e</text>
<rect x="847.00" y="626.90" width="3.50" height="2.0" fill="#1e1e1e"/>
<text transform="translate(859.50,641.40) scale(0.8970,1.0000)" x="-2.12" y="0" font-size="26.5" font-weight="normal" fill="#1e1e1e">DOD</text>
<line x1="813.20" y1="646.40" x2="934.50" y2="646.40" stroke="#222" stroke-width="2.6"/>
<circle cx="870.6" cy="646.4" r="3.6" fill="#222"/>
<text transform="translate(812.30,679.50) scale(0.9550,1.0000)" x="-1.06" y="0" font-size="26.5" font-weight="normal" fill="#e8323c">0.08</text>
<text transform="translate(868.30,679.50) scale(0.9495,1.0000)" x="-1.19" y="0" font-size="26.5" font-weight="normal" fill="#e8323c">e</text>
<rect x="882.70" y="664.60" width="3.50" height="2.0" fill="#e8323c"/>
<text transform="translate(895.20,679.50) scale(0.8880,1.0000)" x="-2.12" y="0" font-size="26.5" font-weight="normal" fill="#e8323c">DOD</text>
<line x1="813.20" y1="686.50" x2="934.50" y2="686.50" stroke="#e82a2a" stroke-width="2.6"/>
<circle cx="870.6" cy="686.5" r="3.6" fill="#e82a2a"/>
<text transform="translate(813.80,719.90) scale(0.9372,1.0000)" x="-1.99" y="0" font-size="26.5" font-weight="normal" fill="#2a2ad6">1.44</text>
<text transform="translate(868.30,719.90) scale(0.9495,1.0000)" x="-1.19" y="0" font-size="26.5" font-weight="normal" fill="#2a2ad6">e</text>
<rect x="882.70" y="706.40" width="3.50" height="2.0" fill="#2a2ad6"/>
<text transform="translate(895.20,719.90) scale(0.8880,1.0000)" x="-2.12" y="0" font-size="26.5" font-weight="normal" fill="#2a2ad6">DOD</text>
<line x1="813.20" y1="725.20" x2="934.50" y2="725.20" stroke="#2222dd" stroke-width="2.6"/>
<circle cx="870.6" cy="725.2" r="3.6" fill="#2222dd"/>
<rect x="1023.4" y="616.6" width="183.60000000000002" height="150.60000000000002" fill="none" stroke="#bcbcbc" stroke-width="2.0"/>
<line x1="1020.40" y1="767.20" x2="1023.40" y2="767.20" stroke="#bcbcbc" stroke-width="1.6"/>
<line x1="1023.40" y1="767.20" x2="1023.40" y2="769.70" stroke="#bcbcbc" stroke-width="1.6"/>
<line x1="1020.40" y1="691.90" x2="1023.40" y2="691.90" stroke="#bcbcbc" stroke-width="1.6"/>
<line x1="1115.20" y1="767.20" x2="1115.20" y2="769.70" stroke="#bcbcbc" stroke-width="1.6"/>
<line x1="1020.40" y1="616.60" x2="1023.40" y2="616.60" stroke="#bcbcbc" stroke-width="1.6"/>
<line x1="1207.00" y1="767.20" x2="1207.00" y2="769.70" stroke="#bcbcbc" stroke-width="1.6"/>
<line x1="1021.40" y1="729.55" x2="1023.40" y2="729.55" stroke="#bcbcbc" stroke-width="1.4"/>
<line x1="1069.30" y1="767.20" x2="1069.30" y2="769.20" stroke="#bcbcbc" stroke-width="1.4"/>
<line x1="1021.40" y1="654.25" x2="1023.40" y2="654.25" stroke="#bcbcbc" stroke-width="1.4"/>
<line x1="1161.10" y1="767.20" x2="1161.10" y2="769.20" stroke="#bcbcbc" stroke-width="1.4"/>
<text transform="translate(979.70,622.60) scale(0.9798,1.0000)" x="-0.93" y="0" font-size="18.5" font-weight="normal" fill="#505050" stroke="#505050" stroke-width="0.55">2000</text>
<text transform="translate(980.80,697.90) scale(0.9556,1.0000)" x="-1.39" y="0" font-size="18.5" font-weight="normal" fill="#505050" stroke="#505050" stroke-width="0.55">1000</text>
<text transform="translate(1008.41,773.20) scale(1.0000,1.0000)" x="-0.74" y="0" font-size="18.5" font-weight="normal" fill="#505050" stroke="#505050" stroke-width="0.55">0</text>
<text transform="translate(1019.01,786.40) scale(1.0000,1.0000)" x="-0.74" y="0" font-size="18.5" font-weight="normal" fill="#505050" stroke="#505050" stroke-width="0.55">0</text>
<text transform="translate(1096.95,786.40) scale(0.9556,1.0000)" x="-1.39" y="0" font-size="18.5" font-weight="normal" fill="#505050" stroke="#505050" stroke-width="0.55">1000</text>
<text transform="translate(1187.90,786.40) scale(0.9874,1.0000)" x="-0.93" y="0" font-size="18.5" font-weight="normal" fill="#505050" stroke="#505050" stroke-width="0.55">2000</text>
<text transform="translate(1094.20,803.40) scale(1.0330,1.0000)" x="-0.60" y="0" font-size="20.0" font-weight="normal" fill="#333" stroke="#333" stroke-width="0.3">Z'(Ω)</text>
<text transform="translate(974.60,710.40) rotate(-90) scale(0.9958,1.0000)" x="-0.94" y="0" font-size="21.0" font-weight="normal" fill="#333" stroke="#333" stroke-width="0.3">-Z''(Ω)</text>
<polyline points="1029.1,767.2 1033.0,762.5 1036.0,758.5 1039.5,754.0 1043.5,747.5 1047.7,741.0 1054.3,733.0 1063.6,723.7 1075.6,713.0 1090.4,700.4 1109.3,685.3 1132.7,666.1 1164.0,644.8 1185.0,631.0 1206.5,618.6" fill="none" stroke="#7474f0" stroke-width="1.3" stroke-linejoin="round" stroke-linecap="round"/>
<circle cx="1043.5" cy="747.5" r="1.5" fill="#5a5ae6"/>
<circle cx="1047.7" cy="741.0" r="1.5" fill="#5a5ae6"/>
<circle cx="1054.3" cy="733.0" r="1.5" fill="#5a5ae6"/>
<circle cx="1063.6" cy="723.7" r="1.5" fill="#5a5ae6"/>
<circle cx="1075.6" cy="713.0" r="1.5" fill="#5a5ae6"/>
<circle cx="1090.4" cy="700.4" r="1.5" fill="#5a5ae6"/>
<circle cx="1109.3" cy="685.3" r="1.5" fill="#5a5ae6"/>
<circle cx="1132.7" cy="666.1" r="1.5" fill="#5a5ae6"/>
<circle cx="1164.0" cy="644.8" r="1.5" fill="#5a5ae6"/>
<circle cx="1185.0" cy="631.0" r="1.5" fill="#5a5ae6"/>
<circle cx="1206.5" cy="618.6" r="1.5" fill="#5a5ae6"/>
<polyline points="1029.1,767.2 1031.5,764.5 1034.0,761.5" fill="none" stroke="#1a1ab0" stroke-width="3.0" stroke-linejoin="round" stroke-linecap="round"/>
<polyline points="1029.1,767.0 1033.0,762.5 1037.3,759.0 1042.0,757.0 1048.3,755.3 1060.0,753.9 1071.2,753.6 1080.0,754.2 1086.6,755.0 1092.0,757.0 1097.5,759.5 1105.0,762.2 1112.8,763.5 1119.0,762.8 1124.8,761.2 1130.0,760.0 1134.7,759.0 1139.6,757.3" fill="none" stroke="#3a3a3a" stroke-width="1.8" stroke-linejoin="round" stroke-linecap="round"/>
<polyline points="1036.2,765.2 1039.5,762.8 1043.0,761.6 1047.2,761.4 1050.5,762.0 1053.7,763.4 1056.0,765.2 1058.1,766.0 1060.3,765.6 1061.6,764.6 1062.5,763.2" fill="none" stroke="#ee4a4a" stroke-width="2.0" stroke-linejoin="round" stroke-linecap="round"/>
</svg></body></html>
